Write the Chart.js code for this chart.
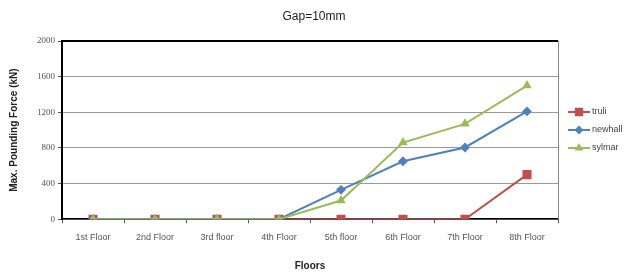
<!DOCTYPE html>
<html>
<head>
<meta charset="utf-8">
<script src="https://cdn.jsdelivr.net/npm/chart.js@4"></script>
<style>
  html, body { margin: 0; padding: 0; background: #fff; }
  #wrap { width: 638px; height: 274px; }
</style>
</head>
<body>
<div id="wrap"><canvas id="lineChart" width="638" height="274"></canvas></div>
<script>
const floors = ['1st Floor', '2nd Floor', '3rd floor', '4th Floor', '5th floor', '6th Floor', '7th Floor', '8th Floor'];
const truli = [0, 0, 0, 0, 0, 0, 0, 500];
const newhall = [0, 0, 0, 0, 330, 650, 805, 1210];
const sylmar = [0, 0, 0, 0, 210, 860, 1070, 1500];
const yTicks = [0, 400, 800, 1200, 1600, 2000];

const series = [
  { label: 'truli', data: truli, color: '#C0504D', style: 'rect', radius: 5, order: 2 },
  { label: 'newhall', data: newhall, color: '#4F81BD', style: 'rectRot', radius: 3.5, order: 1 },
  { label: 'sylmar', data: sylmar, color: '#9BBB59', style: 'triangle', radius: 3.5, order: 0 }
];

// title over the whole picture, thick top line, grey right line
const framePlugin = {
  id: 'frame',
  afterDraw(chart) {
    const { ctx, chartArea: a } = chart;
    ctx.save();
    ctx.fillStyle = '#222';
    ctx.font = '12px "Liberation Sans", Arial, sans-serif';
    ctx.textAlign = 'center';
    ctx.textBaseline = 'middle';
    ctx.fillText('Gap=10mm', 314, 17);

    ctx.strokeStyle = '#000';
    ctx.lineWidth = 2;
    ctx.beginPath();
    ctx.moveTo(a.left, a.top);
    ctx.lineTo(a.right, a.top);
    ctx.stroke();
    ctx.strokeStyle = '#888';
    ctx.lineWidth = 1;
    ctx.beginPath();
    ctx.moveTo(a.right + 0.5, a.top);
    ctx.lineTo(a.right + 0.5, a.bottom);
    ctx.stroke();
    ctx.restore();
  }
};

// legend drawn as line + marker like the spreadsheet style
const legendPlugin = {
  id: 'sideLegend',
  afterDraw(chart) {
    const { ctx } = chart;
    ctx.save();
    series.forEach((s, i) => {
      const y = 112 + i * 18;
      ctx.strokeStyle = s.color;
      ctx.lineWidth = 2;
      ctx.beginPath();
      ctx.moveTo(568, y);
      ctx.lineTo(590, y);
      ctx.stroke();
      ctx.fillStyle = s.color;
      Chart.helpers.drawPoint(ctx, { pointStyle: s.style, radius: s.radius - 0.5, borderWidth: 1 }, 579, y);
      ctx.fill();
      ctx.fillStyle = '#444';
      ctx.font = '9px "Liberation Sans", Arial, sans-serif';
      ctx.textBaseline = 'middle';
      ctx.fillText(s.label, 592, y);
    });
    ctx.restore();
  }
};

new Chart(document.getElementById('lineChart').getContext('2d'), {
  type: 'line',
  data: {
    labels: floors,
    datasets: series.map(s => ({
      label: s.label,
      data: s.data,
      borderColor: s.color,
      backgroundColor: s.color,
      pointStyle: s.style,
      pointRadius: s.radius,
      pointBorderColor: s.color,
      pointBackgroundColor: s.color,
      borderWidth: 2,
      tension: 0,
      order: s.order
    }))
  },
  options: {
    responsive: false,
    animation: false,
    layout: { padding: { left: 8, right: 80, top: 41, bottom: 2 } },
    plugins: {
      legend: { display: false },
      tooltip: { enabled: false },
      title: { display: false }
    },
    scales: {
      x: {
        offset: true,
        grid: { offset: true, drawOnChartArea: false, drawTicks: true, tickLength: 4, color: '#555' },
        border: { color: '#000', width: 1.5 },
        ticks: {
          color: '#555',
          font: { family: '"Liberation Sans", Arial, sans-serif', size: 9 },
          maxRotation: 0,
          autoSkip: false,
          padding: 9
        },
        title: {
          display: true,
          text: 'Floors',
          color: '#222',
          font: { family: '"Liberation Sans", Arial, sans-serif', size: 10, weight: 'bold' },
          padding: { top: 8, bottom: 0 }
        }
      },
      y: {
        min: 0,
        max: 2000,
        afterBuildTicks(axis) { axis.ticks = yTicks.map(v => ({ value: v })); },
        grid: { color: '#999', lineWidth: 1, tickLength: 4, tickColor: '#555' },
        border: { color: '#000', width: 2 },
        ticks: {
          color: '#555',
          font: { family: '"Liberation Serif", serif', size: 9 },
          padding: 3,
          callback: v => String(v)
        },
        title: {
          display: true,
          text: 'Max. Pounding Force (kN)',
          color: '#222',
          font: { family: '"Liberation Sans", Arial, sans-serif', size: 10, weight: 'bold' },
          padding: { top: 0, bottom: 14 }
        }
      }
    }
  },
  plugins: [framePlugin, legendPlugin]
});
</script>
</body>
</html>
